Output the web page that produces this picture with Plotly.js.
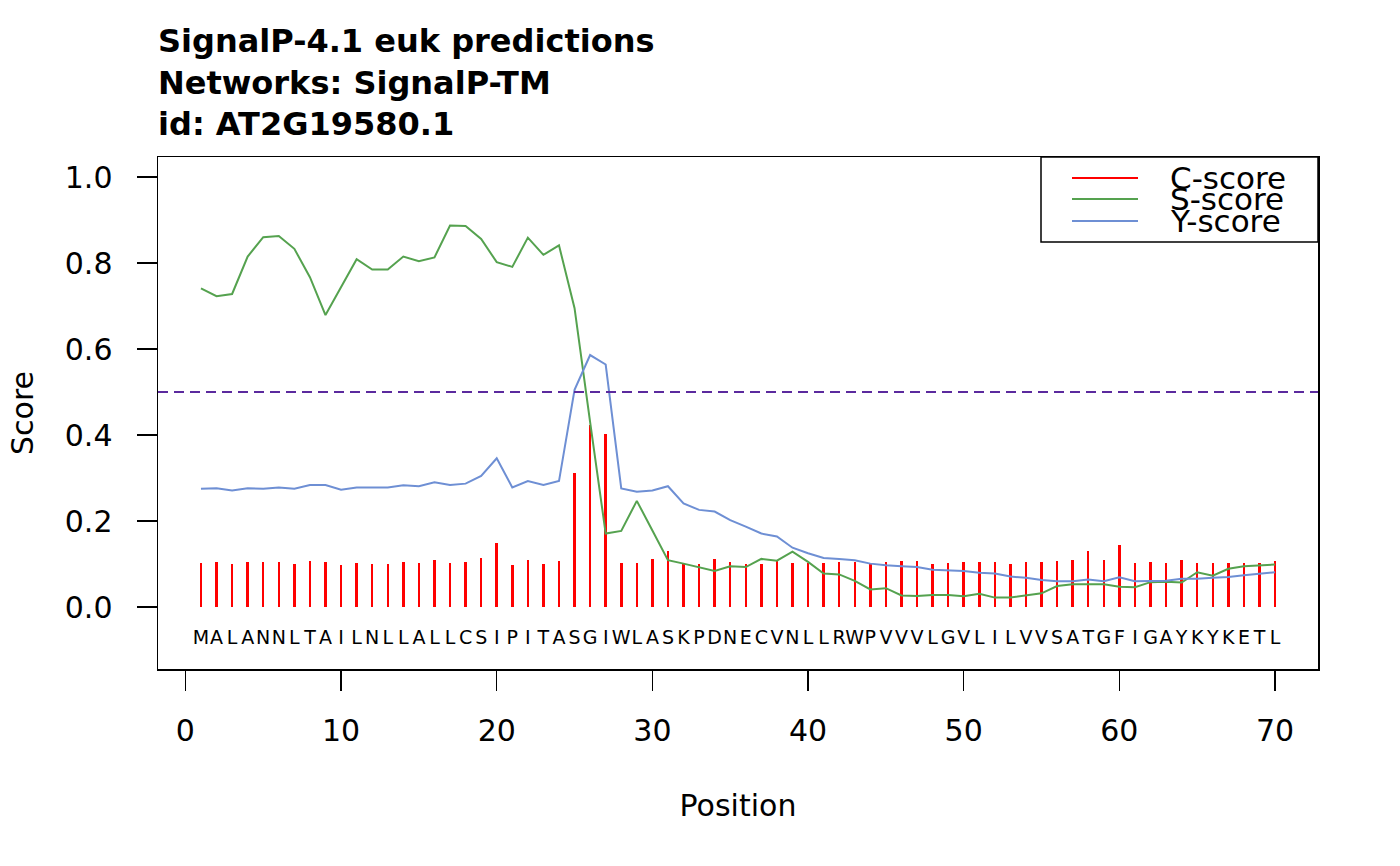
<!DOCTYPE html>
<html>
<head>
<meta charset="utf-8">
<script src="https://cdn.plot.ly/plotly-3.0.1.min.js"></script>
<style>html,body{margin:0;padding:0;background:#fff;}#chart{width:1400px;height:866px;}</style>
</head>
<body>
<div id="chart"></div>
<script>
// ---- data ----
const positions = [1,2,3,4,5,6,7,8,9,10,11,12,13,14,15,16,17,18,19,20,21,22,23,24,25,26,27,28,29,30,31,32,33,34,35,36,37,38,39,40,41,42,43,44,45,46,47,48,49,50,51,52,53,54,55,56,57,58,59,60,61,62,63,64,65,66,67,68,69,70];
const residues = ["M","A","L","A","N","N","L","T","A","I","L","N","L","L","A","L","L","C","S","I","P","I","T","A","S","G","I","W","L","A","S","K","P","D","N","E","C","V","N","L","L","R","W","P","V","V","V","L","G","V","L","I","L","V","V","S","A","T","G","F","I","G","A","Y","K","Y","K","E","T","L"];
const cScore = [0.103,0.105,0.100,0.105,0.104,0.105,0.100,0.107,0.105,0.098,0.102,0.101,0.101,0.105,0.103,0.109,0.103,0.104,0.115,0.150,0.098,0.109,0.101,0.107,0.312,0.423,0.402,0.103,0.103,0.112,0.130,0.103,0.101,0.111,0.105,0.101,0.100,0.109,0.102,0.103,0.103,0.105,0.105,0.099,0.105,0.106,0.107,0.100,0.103,0.105,0.104,0.104,0.100,0.105,0.104,0.106,0.109,0.130,0.109,0.145,0.102,0.105,0.102,0.109,0.103,0.103,0.102,0.103,0.102,0.106];
const sScore = [0.741,0.723,0.728,0.815,0.860,0.863,0.833,0.767,0.679,0.745,0.809,0.785,0.785,0.815,0.804,0.813,0.887,0.886,0.856,0.802,0.791,0.859,0.819,0.841,0.695,0.430,0.171,0.177,0.247,0.178,0.109,0.101,0.092,0.084,0.095,0.093,0.112,0.108,0.129,0.105,0.078,0.076,0.061,0.041,0.044,0.027,0.026,0.028,0.028,0.025,0.031,0.022,0.022,0.027,0.032,0.049,0.053,0.053,0.053,0.047,0.046,0.058,0.059,0.057,0.081,0.073,0.089,0.095,0.097,0.099];
const yScore = [0.275,0.276,0.271,0.276,0.275,0.278,0.275,0.284,0.284,0.273,0.278,0.278,0.278,0.283,0.281,0.290,0.284,0.287,0.305,0.346,0.278,0.293,0.284,0.293,0.505,0.586,0.564,0.276,0.268,0.271,0.281,0.241,0.226,0.222,0.202,0.187,0.171,0.164,0.138,0.125,0.114,0.112,0.109,0.101,0.097,0.095,0.093,0.087,0.086,0.084,0.080,0.078,0.071,0.068,0.063,0.060,0.060,0.064,0.060,0.069,0.060,0.061,0.061,0.066,0.066,0.068,0.070,0.074,0.077,0.081];
const cutoff = 0.5;
const seriesNames = ["C-score","S-score","Y-score"];
const xTicks = [0,10,20,30,40,50,60,70];
const yTicks = [0.0,0.2,0.4,0.6,0.8,1.0];

// ---- styles ----
const RED = "#FF0000", GREEN = "#55A24F", BLUE = "#6E8FD4", PURPLE = "#5B2A9E";
const FONT = "DejaVu Sans, Verdana, sans-serif";

const traces = [
  {type:"bar", x:positions, y:cScore, width:0.16, marker:{color:RED, line:{width:0}}, name:seriesNames[0], hoverinfo:"x+y"},
  {type:"scatter", mode:"lines", x:positions, y:sScore, line:{color:GREEN, width:2}, name:seriesNames[1]},
  {type:"scatter", mode:"lines", x:positions, y:yScore, line:{color:BLUE, width:2}, name:seriesNames[2]},
  {type:"scatter", mode:"text", x:positions, y:residues.map(()=>-0.074), text:residues,
   textposition:"middle center", textfont:{family:FONT, size:19, color:"#000"}, hoverinfo:"skip", showlegend:false}
];

// custom legend (R style, tightly stacked)
const L = {x0:(1041-158)/1160, y0:(669-242)/512};
const legColors = [RED, GREEN, BLUE];
const legY = [(669-178)/512, (669-199)/512, (669-221)/512];
const shapes = [
  {type:"line", xref:"paper", yref:"y", x0:0, x1:1, y0:cutoff, y1:cutoff, line:{color:PURPLE, width:2, dash:"10px,6px"}, layer:"above"},
  {type:"rect", xref:"paper", yref:"paper", x0:L.x0, x1:1, y0:L.y0, y1:1, line:{color:"#000", width:1.5}, fillcolor:"#fff", layer:"above"}
];
const annotations = [];
seriesNames.forEach((n,i)=>{
  shapes.push({type:"line", xref:"paper", yref:"paper", x0:(1072-158)/1160, x1:(1138-158)/1160, y0:legY[i], y1:legY[i], line:{color:legColors[i], width:2}, layer:"above"});
  annotations.push({xref:"paper", yref:"paper", x:(1168-158)/1160, y:legY[i], xanchor:"left", yanchor:"middle", text:n, showarrow:false, font:{family:FONT, size:31, color:"#000"}});
});

const layout = {
  width:1400, height:866,
  margin:{l:158, r:82, t:157, b:197},
  paper_bgcolor:"#fff", plot_bgcolor:"#fff",
  showlegend:false,
  bargap:0,
  font:{family:FONT, color:"#000", size:30},
  title:{
    text:"SignalP-4.1 euk predictions<br>Networks: SignalP-TM<br>id: AT2G19580.1",
    xref:"container", yref:"container", x:158/1400, xanchor:"left", y:1-52/866, yanchor:"top",
    font:{family:FONT, size:32, weight:"bold", color:"#000"}
  },
  xaxis:{
    range:[-1.76, 72.76], tickmode:"array", tickvals:xTicks, ticktext:xTicks.map(String),
    showgrid:false, zeroline:false, showline:true, mirror:true, linecolor:"#000", linewidth:1.5,
    ticks:"outside", ticklen:20, tickwidth:1.5, tickcolor:"#000", ticklabelstandoff:14,
    tickfont:{family:FONT, size:30, color:"#000"},
    title:{text:"Position", font:{family:FONT, size:30, color:"#000"}, standoff:48}
  },
  yaxis:{
    range:[-0.144, 1.0465], tickmode:"array", tickvals:yTicks, ticktext:yTicks.map(v=>v.toFixed(1)),
    showgrid:false, zeroline:false, showline:true, mirror:true, linecolor:"#000", linewidth:1.5,
    ticks:"outside", ticklen:20, tickwidth:1.5, tickcolor:"#000", ticklabelstandoff:18,
    tickfont:{family:FONT, size:30, color:"#000"},
    title:{text:"Score", font:{family:FONT, size:30, color:"#000"}, standoff:22}
  },
  shapes:shapes,
  annotations:annotations
};

Plotly.newPlot("chart", traces, layout, {displayModeBar:false, staticPlot:true});
</script>
</body>
</html>
